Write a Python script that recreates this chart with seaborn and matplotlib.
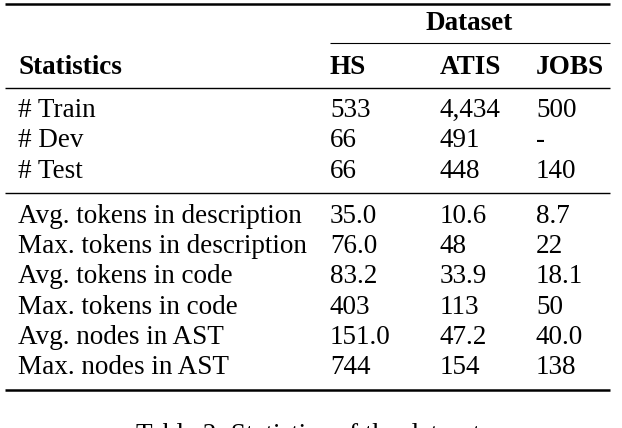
import matplotlib.pyplot as plt
import seaborn as sns

sns.set_theme(style="white")
plt.rcParams["font.family"] = ["Liberation Serif", "DejaVu Serif"]
plt.rcParams["text.color"] = "black"

columns = ["HS", "ATIS", "JOBS"]
split_labels = ["# Train", "# Dev", "# Test"]
split_values = [["533", "4,434", "500"], ["66", "491", "-"], ["66", "448", "140"]]
stat_labels = ["Avg. tokens in description", "Max. tokens in description",
               "Avg. tokens in code", "Max. tokens in code",
               "Avg. nodes in AST", "Max. nodes in AST"]
stat_values = [["35.0", "10.6", "8.7"], ["76.0", "48", "22"],
               ["83.2", "33.9", "18.1"], ["403", "113", "50"],
               ["151.0", "47.2", "40.0"], ["744", "154", "138"]]

W, H = 622, 428
fig = plt.figure(figsize=(W / 100, H / 100), dpi=100)
ax = fig.add_axes([0, 0, 1, 1])
ax.set_xlim(0, W)
ax.set_ylim(H, 0)
ax.axis("off")

fs = 19.5
col_x = [330, 440, 536]
label_x = 18

def rule(y, x0=5, x1=610, lw=1.0):
    ax.plot([x0, x1], [y, y], color="black", lw=lw, solid_capstyle="butt")

rule(4, lw=1.8)
ax.text(469, 23, "Dataset", fontsize=fs, fontweight="bold", ha="center", va="center")
rule(43, 330, 610, lw=0.8)
ax.text(label_x, 67, "Statistics", fontsize=fs, fontweight="bold", va="center")
for x, c in zip(col_x, columns):
    ax.text(x, 67, c, fontsize=fs, fontweight="bold", va="center")
rule(88, lw=1.0)

for i, (lab, vals) in enumerate(zip(split_labels, split_values)):
    y = 110 + i * 30.5
    ax.text(label_x, y, lab, fontsize=fs, va="center")
    for x, v in zip(col_x, vals):
        ax.text(x, y, v, fontsize=fs, va="center")
rule(193, lw=1.0)

for i, (lab, vals) in enumerate(zip(stat_labels, stat_values)):
    y = 216 + i * 30.4
    ax.text(label_x, y, lab, fontsize=fs, va="center")
    for x, v in zip(col_x, vals):
        ax.text(x, y, v, fontsize=fs, va="center")
rule(390, lw=1.8)

ax.text(311, 436, "Table 2: Statistics of the dataset.", fontsize=fs, ha="center", va="center")

fig.savefig("out.png", dpi=100)
